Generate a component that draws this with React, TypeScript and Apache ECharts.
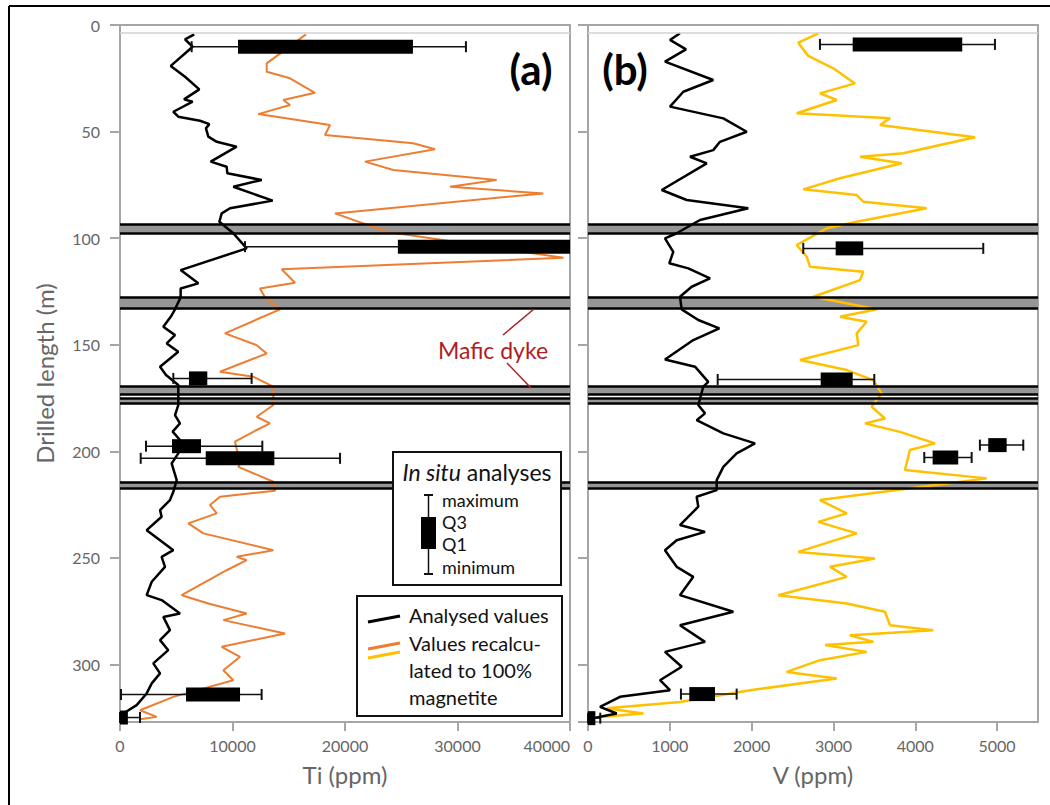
import React, { useEffect, useRef } from "react";
import * as echarts from "echarts";

const FONT = 'Lato, "Open Sans", sans-serif';

// ---------- Panel (a): Ti ----------
const tiAnalysedDepth = [4.4, 6.7, 10.2, 19.2, 24.3, 30.2, 34.9, 36.0, 40.7, 43.0, 44.9, 46.5, 48.5, 52.4, 54.8, 57.1, 64.1, 66.5, 69.6, 72.7, 75.9, 82.4, 86.0, 88.4, 92.3, 97.7, 104.8, 115.0, 121.2, 123.6, 127.8, 133.4, 136.9, 141.6, 145.5, 149.4, 153.3, 160.3, 164.2, 168.9, 178.3, 183.0, 186.9, 190.8, 194.7, 201.0, 205.7, 213.5, 219.0, 222.9, 227.6, 230.7, 237.0, 241.7, 246.4, 249.5, 254.2, 261.2, 267.5, 269.8, 276.1, 277.7, 283.9, 288.6, 293.3, 299.5, 304.2, 308.9, 313.6, 319.1, 323.0, 325.2];
const tiAnalysed = [6600, 5780, 6460, 4510, 5780, 7050, 5690, 6460, 4740, 5180, 7110, 7940, 7640, 7850, 8600, 10370, 8060, 9480, 9540, 12600, 10070, 13570, 9780, 9040, 8830, 10070, 11260, 5390, 6960, 5390, 5390, 4890, 4510, 3850, 4890, 4150, 5180, 3560, 4090, 5180, 5180, 4890, 5330, 4680, 5330, 5180, 4590, 5040, 4740, 4440, 3560, 3700, 2370, 3560, 4740, 3700, 4000, 2820, 2370, 3700, 5330, 3850, 4440, 3560, 4290, 2960, 3560, 2820, 2370, 1480, 290, 0];

const tiRecalcDepth = [4.4, 18.0, 21.9, 25.0, 31.8, 35.2, 37.5, 41.8, 46.9, 51.6, 55.5, 58.3, 64.1, 68.0, 72.7, 75.9, 79.0, 88.4, 97.0, 109.2, 114.6, 120.9, 123.6, 127.8, 133.4, 144.7, 150.2, 154.1, 162.7, 165.0, 169.7, 178.3, 183.8, 186.9, 190.0, 195.5, 205.7, 207.3, 214.3, 218.5, 221.3, 225.2, 229.1, 233.8, 238.5, 246.4, 249.5, 251.1, 255.8, 267.5, 271.4, 276.1, 279.2, 285.5, 291.7, 296.4, 302.7, 307.4, 315.2, 321.5, 324.6, 325.7];
const tiRecalc = [16530, 13040, 13040, 15110, 17330, 14520, 15110, 12290, 18670, 18220, 26070, 28000, 21780, 24290, 33480, 29330, 37630, 19110, 23710, 39410, 14370, 15560, 12440, 12890, 14220, 9330, 12150, 13040, 8890, 11850, 13630, 13630, 12150, 13330, 12150, 10220, 10670, 10520, 13630, 13780, 8890, 8000, 8600, 6070, 7410, 13630, 10370, 11260, 9480, 5480, 7850, 11260, 9190, 14670, 9040, 10670, 9190, 10070, 4740, 1780, 3260, 1780];

const tiBoxDepth = [10.2, 104.0, 165.8, 197.6, 203.3, 314.1, 324.9];
const tiBoxMin = [6370, 11110, 4740, 2310, 1840, 90, 0];
const tiBoxQ1 = [10490, 24700, 6130, 4620, 7620, 5870, -100];
const tiBoxQ3 = [26040, 48000, 7760, 7200, 13720, 10670, 700];
const tiBoxMax = [30750, 55000, 11700, 12650, 19560, 12590, 1780];

// ---------- Panel (b): V ----------
const vAnalysedDepth = [3.9, 7.0, 11.4, 17.2, 25.8, 31.3, 38.3, 43.8, 50.1, 54.8, 58.7, 61.8, 64.9, 77.4, 82.1, 86.0, 91.5, 97.7, 100.1, 106.4, 111.8, 114.2, 118.9, 122.8, 127.5, 133.4, 138.4, 142.3, 147.8, 156.9, 160.3, 167.4, 169.7, 178.3, 182.2, 185.4, 191.6, 196.3, 201.0, 207.3, 213.5, 218.2, 221.3, 226.0, 234.6, 237.8, 241.7, 246.4, 254.2, 258.9, 267.5, 275.3, 281.6, 289.4, 294.1, 301.1, 307.4, 312.1, 315.2, 319.9, 323.0, 325.3];
const vAnalysed = [1124, 1002, 1198, 941, 1531, 1165, 1002, 1654, 1940, 1613, 1531, 1247, 1451, 901, 1206, 1959, 1369, 1084, 941, 1042, 994, 1226, 1491, 1267, 1124, 1145, 1348, 1605, 1287, 941, 1308, 1470, 1409, 1348, 1430, 1328, 1654, 2041, 1817, 1654, 1573, 1573, 1328, 1348, 1124, 1430, 1084, 941, 1084, 1287, 1124, 1776, 1124, 1430, 941, 1145, 880, 1002, 391, 147, 351, 45];

const vRecalcDepth = [3.9, 8.3, 14.5, 20.3, 27.4, 32.1, 35.2, 41.4, 43.8, 46.9, 52.7, 60.2, 61.8, 64.9, 71.9, 77.1, 79.8, 82.9, 86.0, 92.3, 95.4, 103.2, 108.7, 113.4, 115.8, 119.7, 127.5, 133.4, 136.9, 139.2, 144.7, 150.2, 157.2, 161.9, 166.6, 172.8, 179.1, 184.6, 186.9, 190.9, 196.3, 199.4, 208.8, 212.7, 218.2, 222.9, 229.1, 233.1, 238.5, 247.2, 250.3, 254.2, 258.9, 267.5, 271.4, 275.3, 281.6, 283.9, 286.3, 289.4, 290.9, 294.1, 298.0, 303.5, 306.6, 312.1, 317.6, 320.6, 323.0, 324.6];
const vRecalc = [2815, 2570, 2692, 2998, 3263, 2835, 3040, 2551, 3691, 3569, 4730, 3853, 3324, 3834, 3080, 2631, 3284, 3365, 4139, 3284, 2917, 2551, 2673, 2713, 3365, 3324, 2753, 3528, 3080, 3406, 3284, 3304, 2591, 3162, 3487, 3589, 3467, 3630, 3385, 3813, 4241, 3935, 3874, 4873, 3773, 2835, 3162, 2815, 3284, 2570, 3508, 2958, 3162, 2326, 3162, 3630, 3691, 4220, 3202, 3487, 2897, 3406, 2835, 2428, 3040, 1980, 1124, 229, 676, 147];

const vBoxDepth = [9.1, 104.8, 166.3, 197.1, 202.9, 313.9, 325.2];
const vBoxMin = [2835, 2631, 1585, 4790, 4110, 1136, 0];
const vBoxQ1 = [3235, 3027, 2844, 4892, 4212, 1238, 0];
const vBoxQ3 = [4574, 3364, 3235, 5117, 4525, 1552, 90];
const vBoxMax = [4974, 4831, 3499, 5320, 4689, 1817, 150];

// ---------- Mafic dyke bands (depth, m) ----------
const bandTop = [93.4, 127.6, 169.7, 175.0, 214.3];
const bandBottom = [97.6, 132.8, 173.3, 177.4, 217.5];
const coreTopDepth = 3.8;

// ---------- Axes ----------
const depthMax = 327;
const depthInterval = 50;
const tiMax = 40000;
const tiInterval = 10000;
const vMax = 5500;
const vInterval = 1000;

const pairs = (vals: number[], depths: number[]) => vals.map((v, i) => [v, depths[i]]);
const boxRows = (d: number[], mn: number[], q1: number[], q3: number[], mx: number[]) =>
  d.map((x, i) => [x, mn[i], q1[i], q3[i], mx[i]]);

const renderBox = (params: any, api: any) => {
  const cs = params.coordSys;
  const left = cs.x;
  const right = cs.x + cs.width;
  const d = api.value(0);
  const pMin = api.coord([api.value(1), d]);
  const pQ1 = api.coord([api.value(2), d]);
  const pQ3 = api.coord([api.value(3), d]);
  const pMax = api.coord([api.value(4), d]);
  const clampX = (x: number) => Math.max(left, Math.min(right, x));
  const y = pMin[1];
  const cap = 5.5;
  const half = 7;
  const children: any[] = [];
  const wStyle = { stroke: "#111", lineWidth: 1.5 };
  children.push({ type: "line", shape: { x1: clampX(pMin[0]), y1: y, x2: clampX(pMax[0]), y2: y }, style: wStyle });
  if (pMin[0] >= left - 0.5 && pMin[0] <= right + 0.5)
    children.push({ type: "line", shape: { x1: pMin[0], y1: y - cap, x2: pMin[0], y2: y + cap }, style: { stroke: "#111", lineWidth: 2 } });
  if (pMax[0] >= left - 0.5 && pMax[0] <= right + 0.5)
    children.push({ type: "line", shape: { x1: pMax[0], y1: y - cap, x2: pMax[0], y2: y + cap }, style: { stroke: "#111", lineWidth: 2 } });
  const bx0 = clampX(pQ1[0]);
  const bx1 = clampX(pQ3[0]);
  children.push({ type: "rect", shape: { x: bx0, y: y - half, width: Math.max(bx1 - bx0, 1), height: half * 2 }, style: { fill: "#000" } });
  return { type: "group", children };
};

const axisGray = "#a6a6a6";
const labelGray = "#666666";
const plainNumber = (v: number) => String(v);

const xAxisBase = (gridIndex: number, max: number, interval: number, name: string, labelExtra: any) => ({
  type: "value",
  gridIndex,
  min: 0,
  max,
  interval,
  axisLine: { show: true, onZero: false, lineStyle: { color: axisGray, width: 2 } },
  axisTick: { show: true, inside: false, length: 9, lineStyle: { color: axisGray, width: 2 } },
  axisLabel: { show: true, color: labelGray, fontSize: 16, fontFamily: FONT, margin: 15, formatter: plainNumber, ...labelExtra },
  splitLine: { show: false },
  name,
  nameLocation: "middle",
  nameGap: 40,
  nameMoveOverlap: false,
  nameTextStyle: { color: labelGray, fontSize: 24, fontFamily: FONT },
});

const yAxisBase = (gridIndex: number, showLabels: boolean) => ({
  type: "value",
  gridIndex,
  inverse: true,
  min: 0,
  max: depthMax,
  interval: depthInterval,
  axisLine: { show: true, onZero: false, lineStyle: { color: axisGray, width: 2 } },
  axisTick: { show: true, inside: false, length: 10, lineStyle: { color: axisGray, width: 2 } },
  axisLabel: { show: showLabels, showMaxLabel: false, color: labelGray, fontSize: 16, fontFamily: FONT, margin: 20, formatter: plainNumber },
  splitLine: { show: false },
});

const bandSeries = (idx: number) => ({
  type: "line",
  xAxisIndex: idx,
  yAxisIndex: idx,
  data: [],
  z: 6,
  silent: true,
  markArea: {
    silent: true,
    itemStyle: { color: "#969696" },
    data: bandTop.map((t, i) => [{ yAxis: t }, { yAxis: bandBottom[i] }]),
  },
  markLine: {
    silent: true,
    symbol: ["none", "none"],
    label: { show: false },
    lineStyle: { color: "#000", width: 2.5, type: "solid" },
    data: [
      ...bandTop.map((v) => ({ yAxis: v })),
      ...bandBottom.map((v) => ({ yAxis: v })),
      { yAxis: coreTopDepth, lineStyle: { color: "#d2d2d2", width: 1.5, type: "solid" } },
    ],
  },
});

export default function App() {
  const ref = useRef<HTMLDivElement>(null);

  useEffect(() => {
    document.body.style.margin = "0";
    if (!ref.current) return;
    const chart = echarts.init(ref.current, null, { renderer: "svg" });

    const txt = (text: string, x: number, y: number, size: number, extra: any = {}) => ({
      type: "text",
      x,
      y,
      z: 100,
      style: { text, fontSize: size, fontFamily: FONT, fill: "#111", align: "left", verticalAlign: "middle", ...extra },
    });
    const ln = (x1: number, y1: number, x2: number, y2: number, stroke: string, lineWidth: number) => ({
      type: "line",
      z: 100,
      shape: { x1, y1, x2, y2 },
      style: { stroke, lineWidth },
    });

    const option: any = {
      animation: false,
      backgroundColor: "#ffffff",
      grid: [
        { left: 120, top: 25, width: 450, height: 697, show: true, borderColor: axisGray, borderWidth: 2, backgroundColor: "transparent", containLabel: false, outerBoundsMode: "none" },
        { left: 588, top: 25, width: 450, height: 697, show: true, borderColor: axisGray, borderWidth: 2, backgroundColor: "transparent", containLabel: false, outerBoundsMode: "none" },
      ],
      xAxis: [
        xAxisBase(0, tiMax, tiInterval, "Ti (ppm)", { alignMaxLabel: "right" }),
        xAxisBase(1, vMax, vInterval, "V (ppm)", { showMaxLabel: false }),
      ],
      yAxis: [
        {
          ...yAxisBase(0, true),
          name: "Drilled length (m)",
          nameLocation: "middle",
          nameGap: 64,
          nameMoveOverlap: false,
          nameTextStyle: { color: labelGray, fontSize: 24, fontFamily: FONT },
        },
        yAxisBase(1, false),
      ],
      series: [
        { type: "line", name: "Ti recalculated", xAxisIndex: 0, yAxisIndex: 0, data: pairs(tiRecalc, tiRecalcDepth), symbol: "none", showSymbol: false, lineStyle: { color: "#ed7d31", width: 2 }, z: 2, silent: true },
        { type: "line", name: "Ti analysed", xAxisIndex: 0, yAxisIndex: 0, data: pairs(tiAnalysed, tiAnalysedDepth), symbol: "none", showSymbol: false, lineStyle: { color: "#000000", width: 2.5 }, z: 3, silent: true },
        { type: "custom", name: "Ti in situ", xAxisIndex: 0, yAxisIndex: 0, data: boxRows(tiBoxDepth, tiBoxMin, tiBoxQ1, tiBoxQ3, tiBoxMax), renderItem: renderBox, encode: { x: [1, 2, 3, 4], y: 0 }, z: 4, silent: true },
        bandSeries(0),
        { type: "line", name: "V recalculated", xAxisIndex: 1, yAxisIndex: 1, data: pairs(vRecalc, vRecalcDepth), symbol: "none", showSymbol: false, lineStyle: { color: "#ffc000", width: 2.5 }, z: 2, silent: true },
        { type: "line", name: "V analysed", xAxisIndex: 1, yAxisIndex: 1, data: pairs(vAnalysed, vAnalysedDepth), symbol: "none", showSymbol: false, lineStyle: { color: "#000000", width: 2.5 }, z: 3, silent: true },
        { type: "custom", name: "V in situ", xAxisIndex: 1, yAxisIndex: 1, data: boxRows(vBoxDepth, vBoxMin, vBoxQ1, vBoxQ3, vBoxMax), renderItem: renderBox, encode: { x: [1, 2, 3, 4], y: 0 }, z: 4, silent: true },
        bandSeries(1),
      ],
      graphic: {
        elements: [
          // outer frame (left and top edges)
          ln(9, 6, 9, 805, "#000", 2),
          ln(9, 6, 1050, 6, "#000", 2),
          // panel labels
          txt("(a)", 531, 69, 42, { fontWeight: "bold", align: "center", fill: "#000" }),
          txt("(b)", 625, 69, 42, { fontWeight: "bold", align: "center", fill: "#000" }),
          // mafic dyke annotation
          txt("Mafic dyke", 493, 350, 23, { align: "center", fill: "#b01c24" }),
          ln(503, 335, 534, 309, "#b01c24", 1.5),
          ln(507, 363, 531, 388, "#b01c24", 1.5),
          // in situ legend
          { type: "rect", z: 100, shape: { x: 393, y: 452, width: 168, height: 133 }, style: { fill: "#fff", stroke: "#111", lineWidth: 2 } },
          {
            type: "text",
            x: 477,
            y: 472,
            z: 101,
            style: {
              text: "{i|In situ} analyses",
              fontSize: 23,
              fontFamily: FONT,
              fill: "#111",
              align: "center",
              verticalAlign: "middle",
              rich: { i: { fontStyle: "italic", fontSize: 23, fontFamily: FONT, fill: "#111" } },
            },
          },
          ln(428.5, 495, 428.5, 574, "#111", 1.5),
          ln(424, 495, 433, 495, "#111", 2),
          ln(424, 574, 433, 574, "#111", 2),
          { type: "rect", z: 101, shape: { x: 421, y: 517, width: 15, height: 32 }, style: { fill: "#000" } },
          txt("maximum", 442, 500, 18),
          txt("Q3", 442, 522, 18),
          txt("Q1", 442, 544, 18),
          txt("minimum", 442, 567, 18),
          // line legend
          { type: "rect", z: 100, shape: { x: 357, y: 596, width: 205, height: 120 }, style: { fill: "#fff", stroke: "#111", lineWidth: 2 } },
          ln(368, 622, 400, 616, "#000", 3),
          ln(368, 649, 400, 643, "#ed7d31", 3),
          ln(368, 658, 400, 652, "#ffc000", 3),
          txt("Analysed values", 409, 615, 20),
          txt("Values recalcu-", 409, 643, 20),
          txt("lated to 100%", 409, 670, 20),
          txt("magnetite", 409, 697, 20),
        ],
      },
    };

    chart.setOption(option);
    return () => chart.dispose();
  }, []);

  return <div ref={ref} style={{ width: 1050, height: 805 }} />;
}
